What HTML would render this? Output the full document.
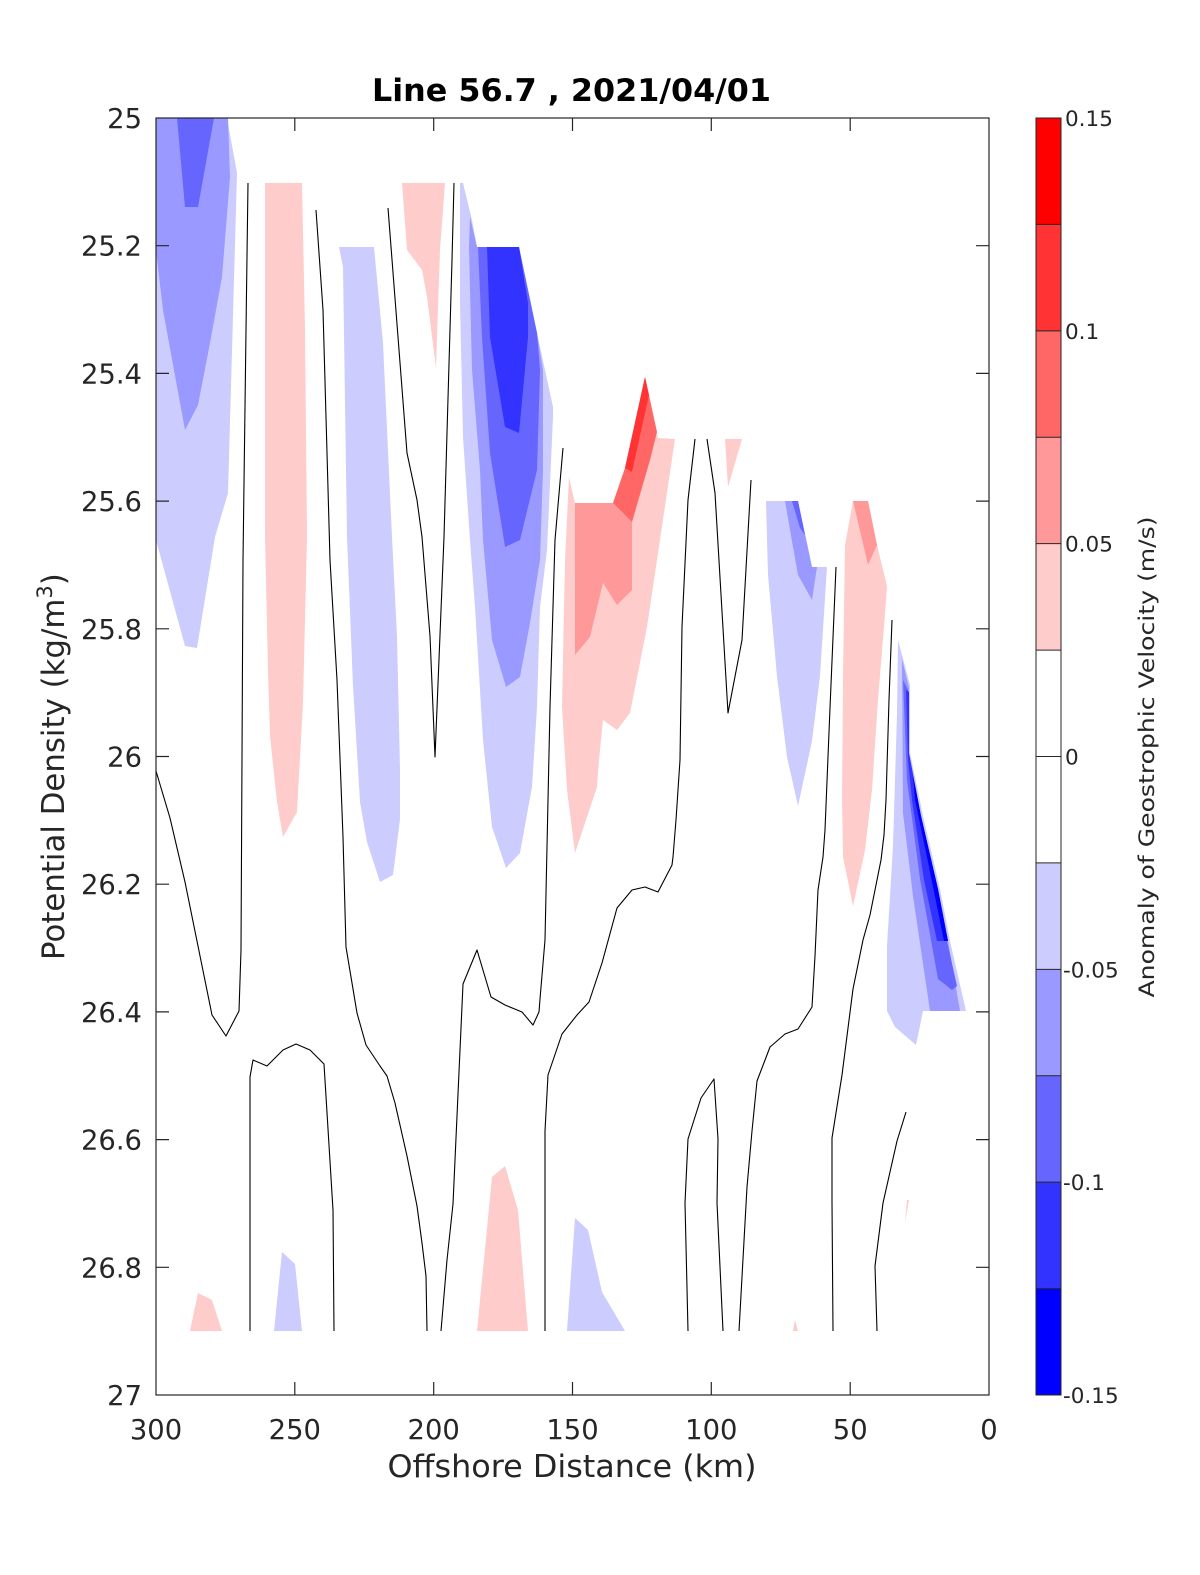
<!DOCTYPE html>
<html><head><meta charset="utf-8"><style>body{margin:0;background:#fff}svg{display:block}</style></head>
<body>
<svg width="1200" height="1575" xmlns="http://www.w3.org/2000/svg" font-family="'DejaVu Sans','Liberation Sans',sans-serif">
<rect x="0" y="0" width="1200" height="1575" fill="#fff"/>
<g stroke="none">
<!-- region 300-270 -->
<polygon fill="#CCCCFF" points="156,118 227,118 237,173 228,493 215,537 197,648 185,646 156,540"/>
<polygon fill="#9999FF" points="156,118 228,118 230,177 222,277 210,343 198,405 185,430 163,310 156,250"/>
<polygon fill="#6666FF" points="177,118 214,118 198,207 185,207"/>
<!-- pink 255 -->
<polygon fill="#FFCCCC" points="265,183 302,183 305,327 307,537 303,703 297,812 283,837 277,802 270,736 268,670 265,537"/>
<!-- blue 225 -->
<polygon fill="#CCCCFF" points="339,247 374,247 383,343 392,537 397,636 400,769 400,819 393,875 380,882 367,842 360,802 353,686 347,537 343,267"/>
<!-- pink 200 -->
<polygon fill="#FFCCCC" points="402,183 445,183 440,250 436,368 427,297 422,270 407,250"/>
<!-- blue 175 -->
<polygon fill="#CCCCFF" points="460,183 463,183 472,220 477,247 519,247 537,333 553,407 553,417 547,550 540,607 537,707 532,787 520,853 506,868 492,827 483,740 475,607 470,540 463,437 460,303"/>
<polygon fill="#9999FF" points="470,217 477,247 519,247 537,333 543,370 543,470 540,560 530,623 520,677 506,687 492,640 483,540 480,470 472,370 469,247"/>
<polygon fill="#6666FF" points="478,247 519,247 537,333 540,370 537,470 520,540 505,547 490,453 482,337"/>
<polygon fill="#3333FF" points="487,247 519,247 528,303 528,337 519,433 505,427 490,337"/>
<!-- pink 140 -->
<polygon fill="#FFCCCC" points="569,477 575,503 613,503 625,468 645,377 658,438 675,439 647,627 630,713 617,730 603,720 599,760 597,787 575,853 567,790 562,707 565,560"/>
<polygon fill="#FF9999" points="575,503 613,503 632,522 632,590 617,605 603,583 590,637 575,655"/>
<polygon fill="#FF6666" points="645,377 657,432 650,460 632,522 613,503 625,468"/>
<polygon fill="#FF3333" points="645,377 649,395 632,472 625,468"/>
<polygon fill="#FFCCCC" points="725,439 742,439 728,487"/>
<!-- blue 70 -->
<polygon fill="#CCCCFF" points="766,501 798,501 812,567 827,567 820,676 812,741 798,806 787,757 777,676 768,575"/>
<polygon fill="#9999FF" points="785,501 798,501 812,567 817,567 812,600 798,575 790,530"/>
<polygon fill="#6666FF" points="792,501 798,501 805,535 800,528"/>
<!-- pink 50 -->
<polygon fill="#FFCCCC" points="853,501 868,501 877,545 887,586 885,614 878,700 872,790 865,850 853,906 843,857 842,800 843,676 845,545"/>
<polygon fill="#FF9999" points="853,501 868,501 877,545 868,565"/>
<!-- blue 25 -->
<polygon fill="#CCCCFF" points="898,640 910,685 910,753 923,816 940,889 950,941 966,1011 923,1011 916,1045 895,1027 887,1011 887,946 893,846 897,714"/>
<polygon fill="#9999FF" points="901,655 909,688 909,753 921,816 938,889 948,941 960,1011 930,1011 913,896 903,813 902,660"/>
<polygon fill="#6666FF" points="903,680 908,690 908,753 920,816 937,889 947,941 957,986 952,990 938,979 920,879 907,780"/>
<polygon fill="#3333FF" points="906,690 909,692 909,753 921,816 938,889 948,941 937,941 924,880 912,800 908,760"/>
<polygon fill="#0000FF" points="913,775 921,816 938,889 948,941 944,941 928,862 915,800"/>
<!-- bottom -->
<polygon fill="#FFCCCC" points="190,1331 198,1293 212,1300 222,1331"/>
<polygon fill="#CCCCFF" points="274,1331 282,1252 295,1264 302,1331"/>
<polygon fill="#FFCCCC" points="477,1331 492,1177 505,1166 518,1210 528,1331"/>
<polygon fill="#CCCCFF" points="567,1331 575,1218 588,1230 602,1292 625,1331"/>
<polygon fill="#FFCCCC" points="793,1331 795,1320 798,1331"/>
<polygon fill="#FFCCCC" points="907,1200 909,1200 905,1223"/>
</g>
<g fill="none" stroke="#000" stroke-width="1.1" stroke-linejoin="round">
<polyline points="248,183 246,330 243,560 242,757 241,950 239,1011 226,1036 212,1015 185,882 170,818 156,771"/>
<polyline points="316,210 323,310 330,560 337,680 343,837 346,947 357,1013 366,1045 380,1066 387,1076 395,1103 407,1156 417,1206 422,1243 426,1276 427,1331"/>
<polyline points="388,208 407,453 417,500 422,537 430,636 435,757 444,537 452,260 454,183"/>
<polyline points="563,448 555,540 550,707 545,940 540,999 539,1012 533,1025 522,1012 505,1005 491,997 477,950 463,984 453,1204 447,1260 441,1331"/>
<polyline points="695,439 688,500 682,627 680,760 676,820 673,857 672,865 658,892 645,887 632,890 617,908 602,963 589,1002 577,1015 562,1034 548,1075 545,1131 545,1331"/>
<polyline points="707,439 715,493 728,713 742,640 751,480"/>
<polyline points="836,567 830,708 825,830 823,857 818,890 815,956 812,1007 798,1029 785,1034 770,1047 757,1081 752,1131 747,1187 739,1331"/>
<polyline points="892,620 889,700 886,800 884,835 881,860 870,915 863,940 853,989 842,1075 832,1138 832,1203 833,1331"/>
<polyline points="906,1112 897,1141 883,1203 875,1266 877,1331"/>
<polyline points="250,1331 250,1077 253,1060 267,1066 283,1050 296,1044 310,1050 324,1064 333,1210 334,1331"/>
<polyline points="688,1331 685,1203 688,1139 701,1098 714,1079 718,1139 717,1203 723,1331"/>
</g>
<!-- axes -->
<g stroke="#262626" stroke-width="1.2" fill="none">
<rect x="156" y="118" width="833" height="1277"/>
<path d="M294.8,1395v-13M433.7,1395v-13M572.5,1395v-13M711.3,1395v-13M850.2,1395v-13
M294.8,118v13M433.7,118v13M572.5,118v13M711.3,118v13M850.2,118v13
M156,245.7h13M156,373.4h13M156,501.1h13M156,628.8h13M156,756.5h13M156,884.2h13M156,1011.9h13M156,1139.6h13M156,1267.3h13
M989,245.7h-13M989,373.4h-13M989,501.1h-13M989,628.8h-13M989,756.5h-13M989,884.2h-13M989,1011.9h-13M989,1139.6h-13M989,1267.3h-13"/>
</g>
<g fill="#262626" font-size="27.4" text-anchor="end">
<text x="142" y="128">25</text>
<text x="142" y="255.7">25.2</text>
<text x="142" y="383.4">25.4</text>
<text x="142" y="511.1">25.6</text>
<text x="142" y="638.8">25.8</text>
<text x="142" y="766.5">26</text>
<text x="142" y="894.2">26.2</text>
<text x="142" y="1021.9">26.4</text>
<text x="142" y="1149.6">26.6</text>
<text x="142" y="1277.3">26.8</text>
<text x="142" y="1405">27</text>
</g>
<g fill="#262626" font-size="27.4" text-anchor="middle">
<text x="156" y="1439">300</text>
<text x="294.8" y="1439">250</text>
<text x="433.7" y="1439">200</text>
<text x="572.5" y="1439">150</text>
<text x="711.3" y="1439">100</text>
<text x="850.2" y="1439">50</text>
<text x="989" y="1439">0</text>
</g>
<text x="572" y="1477" fill="#262626" font-size="30.8" text-anchor="middle" textLength="369" lengthAdjust="spacingAndGlyphs">Offshore Distance (km)</text>
<text x="571.5" y="101" fill="#000" font-size="31" font-weight="bold" text-anchor="middle" textLength="399" lengthAdjust="spacingAndGlyphs">Line 56.7 , 2021/04/01</text>
<text transform="translate(64,960) rotate(-90)" fill="#262626" font-size="30.8">Potential Density (kg/m<tspan dy="-12" font-size="21">3</tspan><tspan dy="12">)</tspan></text>
<!-- colorbar -->
<g stroke="none">
<rect x="1036" y="118" width="25" height="106.42" fill="#FF0000"/>
<rect x="1036" y="224.42" width="25" height="106.42" fill="#FF3333"/>
<rect x="1036" y="330.83" width="25" height="106.42" fill="#FF6666"/>
<rect x="1036" y="437.25" width="25" height="106.42" fill="#FF9999"/>
<rect x="1036" y="543.67" width="25" height="106.42" fill="#FFCCCC"/>
<rect x="1036" y="650.08" width="25" height="212.83" fill="#FFFFFF"/>
<rect x="1036" y="862.92" width="25" height="106.42" fill="#CCCCFF"/>
<rect x="1036" y="969.33" width="25" height="106.42" fill="#9999FF"/>
<rect x="1036" y="1075.75" width="25" height="106.42" fill="#6666FF"/>
<rect x="1036" y="1182.17" width="25" height="106.42" fill="#3333FF"/>
<rect x="1036" y="1288.58" width="25" height="106.42" fill="#0000FF"/>
</g>
<g stroke="#262626" stroke-width="1" fill="none">
<rect x="1036" y="118" width="25" height="1277"/>
<path d="M1036,224.42h25M1036,330.83h25M1036,437.25h25M1036,543.67h25M1036,650.08h25M1036,756.5h25M1036,862.92h25M1036,969.33h25M1036,1075.75h25M1036,1182.17h25M1036,1288.58h25"/>
</g>
<g fill="#262626" font-size="21.5">
<text x="1065" y="126">0.15</text>
<text x="1065" y="338.8">0.1</text>
<text x="1065" y="551.7">0.05</text>
<text x="1065" y="764.5">0</text>
<text x="1063" y="977.3">-0.05</text>
<text x="1063" y="1190.2">-0.1</text>
<text x="1063" y="1403">-0.15</text>
</g>
<text transform="translate(1154,757) rotate(-90)" fill="#262626" font-size="21.5" text-anchor="middle" textLength="481" lengthAdjust="spacingAndGlyphs">Anomaly of Geostrophic Velocity (m/s)</text>
</svg>
</body></html>
